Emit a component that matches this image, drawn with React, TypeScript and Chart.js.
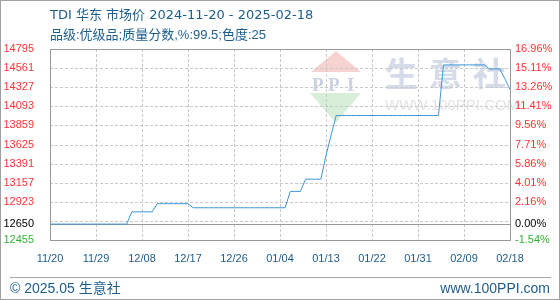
import React, { useEffect, useRef } from 'react';
import { Chart, registerables } from 'chart.js';

Chart.register(...registerables);

// TDI East China market price, one value per day from 2024-11-20 to 2025-02-18 (yuan/ton)
const PRICES: number[] = [
  12650, 12650, 12650, 12650, 12650, 12650, 12650, 12650, 12650, 12650,
  12650, 12650, 12650, 12650, 12650, 12650, 12800, 12800, 12800, 12800,
  12800, 12900, 12900, 12900, 12900, 12900, 12900, 12900, 12850, 12850,
  12850, 12850, 12850, 12850, 12850, 12850, 12850, 12850, 12850, 12850,
  12850, 12850, 12850, 12850, 12850, 12850, 12850, 13050, 13050, 13050,
  13200, 13200, 13200, 13200, 13490, 13740, 13980, 13980, 13980, 13980,
  13980, 13980, 13980, 13980, 13980, 13980, 13980, 13980, 13980, 13980,
  13980, 13980, 13980, 13980, 13980, 13980, 13980, 14600, 14600, 14600,
  14600, 14600, 14600, 14600, 14600, 14600, 14550, 14550, 14550, 14430,
  14300,
];

const BASE_PRICE = 12650;
const X_TICK_LABELS = ['11/20', '11/29', '12/08', '12/17', '12/26', '01/04', '01/13', '01/22', '01/31', '02/09', '02/18'];
const X_TICK_STEP = 9;
const Y_TICKS = [12455, 12650, 12923, 13157, 13391, 13625, 13859, 14093, 14327, 14561, 14795];
const Y_MIN = 12455;
const Y_MAX = 14795;
const Y_GRID_STEP = 234;

const TITLE = 'TDI 华东 市场价 2024-11-20 - 2025-02-18';
const SUBTITLE = '品级:优级品;质量分数,%:99.5;色度:25';
const COPYRIGHT = '© 2025.05 生意社';
const SITE = 'www.100PPI.com';

const RED = '#ff3333';
const GREEN = '#33b133';
const BLUE_TEXT = '#1d5d8c';
const FRAME = '#9a9a9a';
const GRID = '#c9c9c9';
const LINE = '#3c97d6';
const TICK_FONT = { family: '"Liberation Sans", Arial, sans-serif', size: 11 };

function tickColor(v: number): string {
  if (v === BASE_PRICE) return '#000000';
  if (v < BASE_PRICE) return GREEN;
  return RED;
}

const pct = (v: number) => (((v - BASE_PRICE) / BASE_PRICE) * 100).toFixed(2) + '%';

// faint site watermark behind the plot
const watermark = {
  id: 'watermark',
  beforeDraw(chart: any) {
    const { ctx, chartArea } = chart;
    const L = chartArea.left;
    const T = chartArea.top;
    ctx.save();
    // logo: red roof
    ctx.fillStyle = '#f6d3d0';
    ctx.beginPath();
    ctx.moveTo(L + 286, T + 2);
    ctx.lineTo(L + 311, T + 23);
    ctx.lineTo(L + 261, T + 23);
    ctx.closePath();
    ctx.fill();
    // logo: green base
    ctx.fillStyle = '#d9eed9';
    ctx.beginPath();
    ctx.moveTo(L + 260, T + 44);
    ctx.lineTo(L + 311, T + 44);
    ctx.lineTo(L + 286, T + 74);
    ctx.closePath();
    ctx.fill();
    // logo letters
    ctx.fillStyle = '#cbd3e3';
    ctx.font = 'bold 19px "Liberation Serif", serif';
    ctx.textBaseline = 'alphabetic';
    ctx.textAlign = 'left';
    ctx.fillText('P', L + 262, T + 42);
    ctx.fillText('P', L + 278, T + 42);
    ctx.fillText('I', L + 297, T + 42);
    // site name
    ctx.fillStyle = '#d5dbe8';
    ctx.font = 'bold 33px "Noto Sans CJK SC", sans-serif';
    ctx.textBaseline = 'middle';
    ctx.fillText('生', L + 335, T + 24);
    ctx.fillText('意', L + 379, T + 24);
    ctx.fillText('社', L + 423, T + 24);
    ctx.fillStyle = '#e3e3e3';
    ctx.font = '15px "Liberation Sans", Arial, sans-serif';
    ctx.fillText('WWW.100PPI.COM', L + 335, T + 57);
    ctx.restore();
  },
};

// dashed grid, base-price line and plot frame
const gridFrame = {
  id: 'gridFrame',
  beforeDatasetsDraw(chart: any) {
    const { ctx, chartArea, scales } = chart;
    const { left, right, top, bottom } = chartArea;
    ctx.save();
    ctx.lineWidth = 1;
    ctx.strokeStyle = GRID;
    ctx.setLineDash([3, 2]);
    for (let v = Y_MAX - Y_GRID_STEP; v > Y_MIN; v -= Y_GRID_STEP) {
      const y = Math.round(scales.y.getPixelForValue(v)) + 0.5;
      ctx.beginPath();
      ctx.moveTo(left, y);
      ctx.lineTo(right, y);
      ctx.stroke();
    }
    for (let i = 1; i < X_TICK_LABELS.length - 1; i++) {
      const x = Math.round(scales.x.getPixelForValue(i * X_TICK_STEP)) + 0.5;
      ctx.beginPath();
      ctx.moveTo(x, top);
      ctx.lineTo(x, bottom);
      ctx.stroke();
    }
    ctx.setLineDash([]);
    ctx.strokeStyle = FRAME;
    const yb = Math.round(scales.y.getPixelForValue(BASE_PRICE)) + 0.5;
    ctx.beginPath();
    ctx.moveTo(left, yb);
    ctx.lineTo(right, yb);
    ctx.stroke();
    ctx.strokeRect(Math.round(left) + 0.5, Math.round(top) + 0.5, Math.round(right - left), Math.round(bottom - top));
    ctx.restore();
  },
};

export default function App() {
  const canvasRef = useRef<HTMLCanvasElement | null>(null);

  useEffect(() => {
    if (!canvasRef.current) return;
    const chart = new Chart(canvasRef.current, {
      type: 'line',
      data: {
        datasets: [
          {
            data: PRICES.map((p, i) => ({ x: i, y: p })),
            borderColor: LINE,
            borderWidth: 1,
            pointRadius: 0,
            tension: 0,
            yAxisID: 'y',
          },
        ],
      },
      options: {
        animation: false,
        responsive: false,
        devicePixelRatio: 1,
        layout: { padding: { top: 49, left: 0, right: 0, bottom: 0 } },
        plugins: { legend: { display: false }, tooltip: { enabled: false }, title: { display: false } },
        scales: {
          x: {
            type: 'linear',
            min: 0,
            max: PRICES.length - 1,
            grid: { display: false, drawTicks: false },
            border: { display: false },
            afterBuildTicks: (s: any) => {
              s.ticks = X_TICK_LABELS.map((_, i) => ({ value: i * X_TICK_STEP }));
            },
            afterFit: (s: any) => {
              s.height = 60;
            },
            ticks: {
              autoSkip: false,
              maxRotation: 0,
              padding: 12,
              color: BLUE_TEXT,
              font: TICK_FONT,
              callback: (v: any) => X_TICK_LABELS[Math.round(Number(v) / X_TICK_STEP)],
            },
          },
          y: {
            position: 'left',
            min: Y_MIN,
            max: Y_MAX,
            grid: { display: false, drawTicks: false },
            border: { display: false },
            afterBuildTicks: (s: any) => {
              s.ticks = Y_TICKS.map((v) => ({ value: v }));
            },
            afterFit: (s: any) => {
              s.width = 50;
            },
            ticks: {
              autoSkip: false,
              padding: 16,
              font: TICK_FONT,
              color: (c: any) => tickColor(c.tick.value),
              callback: (v: any) => String(v),
            },
          },
          y2: {
            position: 'right',
            min: Y_MIN,
            max: Y_MAX,
            grid: { display: false, drawTicks: false },
            border: { display: false },
            afterBuildTicks: (s: any) => {
              s.ticks = Y_TICKS.map((v) => ({ value: v }));
            },
            afterFit: (s: any) => {
              s.width = 50;
            },
            ticks: {
              autoSkip: false,
              padding: 5,
              font: TICK_FONT,
              color: (c: any) => tickColor(c.tick.value),
              callback: (v: any) => pct(Number(v)),
            },
          },
        },
      },
      plugins: [watermark, gridFrame],
    } as any);
    return () => chart.destroy();
  }, []);

  const textFont = '"Liberation Sans", "Noto Sans CJK SC", Arial, sans-serif';
  const titleFont = '"DejaVu Sans", "Noto Sans CJK SC", sans-serif';

  return (
    <div style={{ position: 'absolute', left: 0, top: 0, width: 560, height: 300, background: '#ffffff', overflow: 'hidden' }}>
      <canvas ref={canvasRef} width={560} height={300} style={{ position: 'absolute', left: 0, top: 0, width: 560, height: 300 }} />
      <div style={{ position: 'absolute', left: 50, top: 6, font: `13px ${titleFont}`, color: BLUE_TEXT, whiteSpace: 'nowrap', lineHeight: '18px' }}>
        {TITLE}
      </div>
      <div style={{ position: 'absolute', left: 50, top: 26, font: `13px ${textFont}`, color: BLUE_TEXT, whiteSpace: 'nowrap', lineHeight: '18px' }}>
        {SUBTITLE}
      </div>
      <div style={{ position: 'absolute', left: 10, top: 277, width: 541, height: 0, borderTop: '1px solid #a8a8a8' }} />
      <div style={{ position: 'absolute', left: 10, top: 278, font: `14px ${textFont}`, color: BLUE_TEXT, whiteSpace: 'nowrap', lineHeight: '20px' }}>
        {COPYRIGHT}
      </div>
      <div style={{ position: 'absolute', right: 10, top: 278, font: `14px ${textFont}`, color: BLUE_TEXT, whiteSpace: 'nowrap', lineHeight: '20px' }}>
        {SITE}
      </div>
      <div style={{ position: 'absolute', left: 0, top: 0, width: 560, height: 300, boxSizing: 'border-box', border: '1px solid #a0a0a0', pointerEvents: 'none' }} />
    </div>
  );
}
